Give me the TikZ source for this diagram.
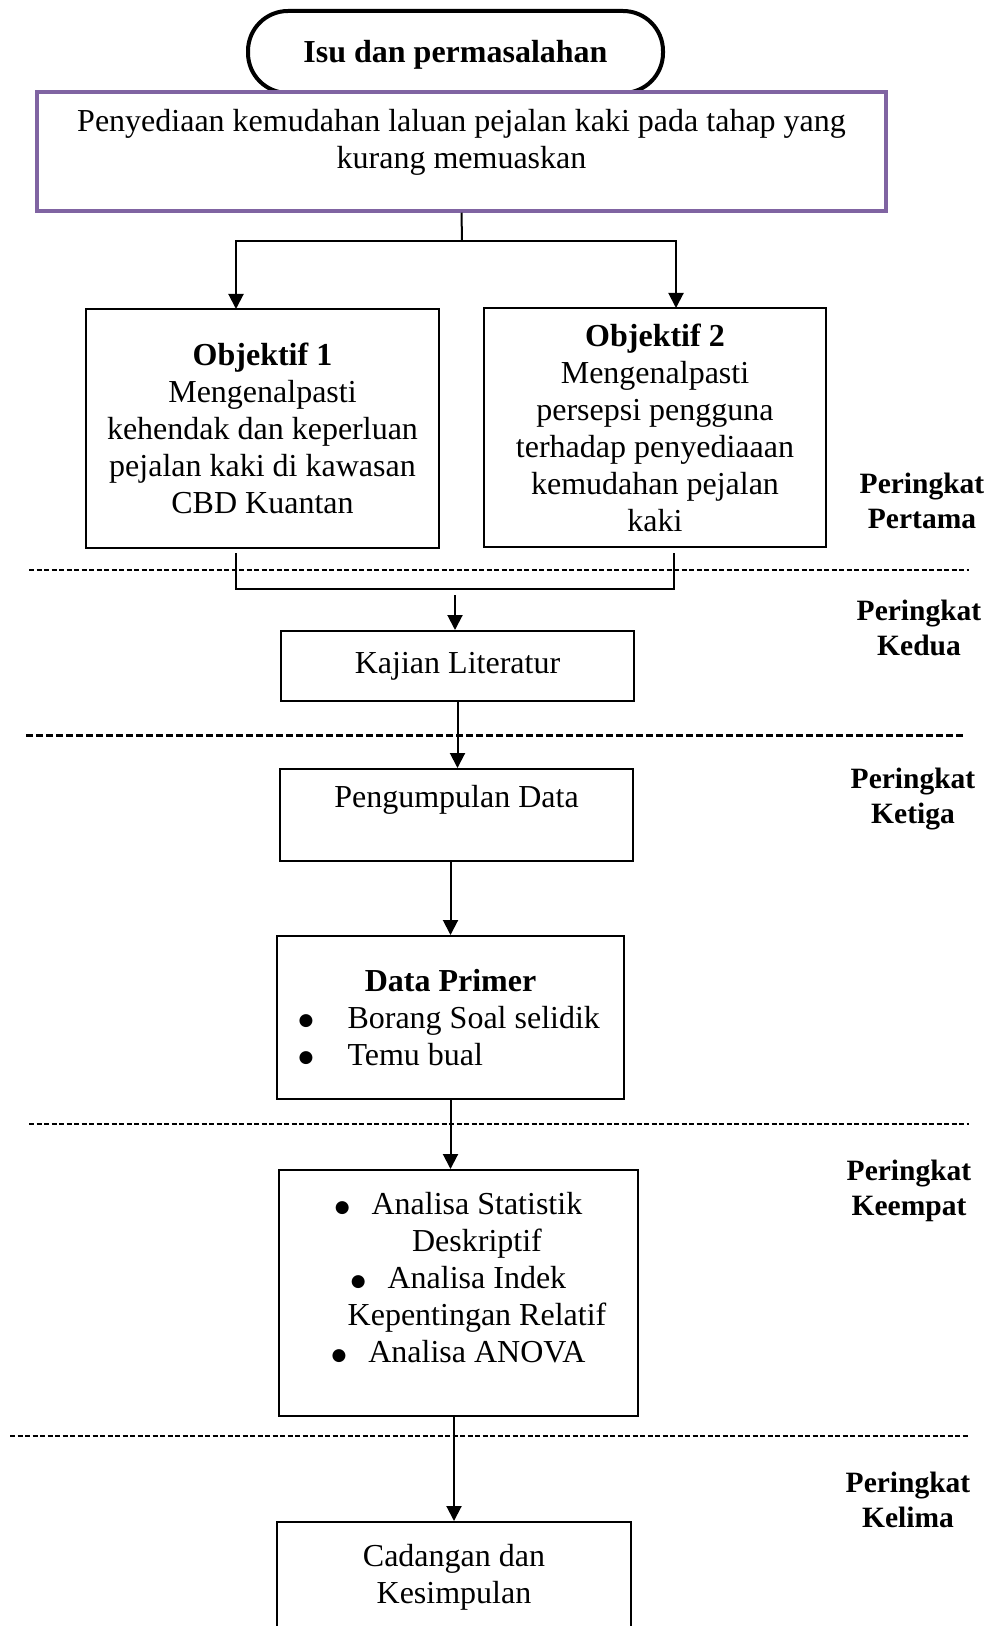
\documentclass[tikz,border=0pt]{standalone}
\usepackage{fontspec}
\setmainfont{Liberation Serif}
\newfontfamily\dotfont{DejaVu Sans}
\usetikzlibrary{arrows.meta}
\definecolor{boxpurple}{HTML}{8064A2}
\newcommand{\bigdot}{\raisebox{1.3pt}{\dotfont\fontsize{8.5}{8.5}\selectfont ●}}
\tikzset{
  box/.style={draw, line width=1pt, align=center, inner sep=0pt, font=\fontsize{16}{18.5}\selectfont},
  txt/.style={align=center, inner sep=0pt, font=\fontsize{16}{18.5}\selectfont},
  level/.style={align=center, inner sep=0pt, font=\fontsize{14.75}{17.5}\selectfont\bfseries},
  arr/.style={line width=1pt, -{Triangle[length=7.5pt,width=7.5pt]}},
  thindash/.style={line width=0.65pt, dash pattern=on 2.5pt off 1.25pt},
  thickdash/.style={line width=1.5pt, dash pattern=on 3.5pt off 1.5pt}
}
\begin{document}
\begin{tikzpicture}[x=0.5pt,y=-0.5pt]
\useasboundingbox (0,0) rectangle (993,1626);
\clip (0,0) rectangle (993,1626);
% issue
\node[draw, line width=2pt, rounded corners=20pt, minimum width=207.5pt, minimum height=41pt] (title) at (455.5,52) {};
\node[txt, font=\fontsize{16}{18.5}\selectfont\bfseries] (titletxt) at (455.5,55) {Isu dan permasalahan};
\node[box, draw=boxpurple, line width=1.75pt, fill=white, minimum width=424.5pt, minimum height=59.5pt] (issue) at (461.5,151.5) {};
\node[txt] (issuetxt) at (461.5,142.5) {Penyediaan kemudahan laluan pejalan kaki pada tahap yang\\kurang memuaskan};
% objectives
\node[box, minimum width=176.5pt, minimum height=119.5pt] (obj1) at (262.5,428.5) {\textbf{Objektif 1}\\Mengenalpasti\\kehendak dan keperluan\\pejalan kaki di kawasan\\CBD Kuantan};
\node[box, minimum width=171pt, minimum height=119.5pt] (obj2) at (655,427.5) {\textbf{Objektif 2}\\Mengenalpasti\\persepsi pengguna\\terhadap penyediaaan\\kemudahan pejalan\\kaki};
\coordinate (split) at (462,241);
\coordinate (o1in) at (236,309);
\coordinate (o2in) at (676,308);
\draw[line width=1pt] (issue.south) -- (split);
\draw[arr] (split) -| (o1in);
\draw[arr] (split) -| (o2in);
% stage lines
\draw[thindash] (29,570) -- (969,570);
\draw[thickdash] (26,735) -- (964,735);
\draw[thindash] (29,1124) -- (969,1124);
\draw[thindash] (10,1436) -- (969,1436);
% literature and data
\node[box, minimum width=176.5pt, minimum height=35pt] (lit) at (457.5,666) {Kajian Literatur};
\coordinate (b1) at (236,553);
\coordinate (b2) at (674,553);
\coordinate (join) at (455,589);
\draw[line width=1pt] (b1) |- (join) -| (b2);
\draw[arr] ([yshift=-3pt]join) -- (join |- lit.north);
\node[box, minimum width=176.5pt, minimum height=46pt] (collect) at (456.5,815) {};
\node[txt] (collecttxt) at (456.5,800) {Pengumpulan Data};
\draw[arr] (lit.south) -- (lit.south |- collect.north);
\node[box, minimum width=173.5pt, minimum height=81.5pt] (primer) at (450.5,1017.5) {\textbf{Data Primer}\\\makebox[152pt][l]{\makebox[24.5pt][l]{\bigdot}Borang Soal selidik}\\\makebox[152pt][l]{\makebox[24.5pt][l]{\bigdot}Temu bual}};
\draw[arr] (collect.south -| primer.north) -- (primer.north);
% analysis
\node[box, minimum width=179.5pt, minimum height=123pt] (analysis) at (458.5,1293) {};
\node[txt] (analysistxt) at (458.5,1278) {\bigdot\hspace{11pt}Analisa Statistik\\\hspace*{18.5pt}Deskriptif\\\bigdot\hspace{11pt}Analisa Indek\\\hspace*{18.5pt}Kepentingan Relatif\\\bigdot\hspace{11pt}Analisa ANOVA};
\draw[arr] (primer.south) -- (primer.south |- analysis.north);
\node[box, minimum width=177pt, minimum height=55pt] (final) at (454,1577) {Cadangan dan\\Kesimpulan};
\draw[arr] (analysis.south -| final.north) -- (final.north);
% levels
\node[level] (lvl1) at (922,501) {Peringkat\\Pertama};
\node[level] (lvl2) at (919,628) {Peringkat\\Kedua};
\node[level] (lvl3) at (913,799) {Peringkat\\Ketiga};
\node[level] (lvl4) at (909,1191) {Peringkat\\Keempat};
\node[level] (lvl5) at (908,1500) {Peringkat\\Kelima};
\end{tikzpicture}
\end{document}
